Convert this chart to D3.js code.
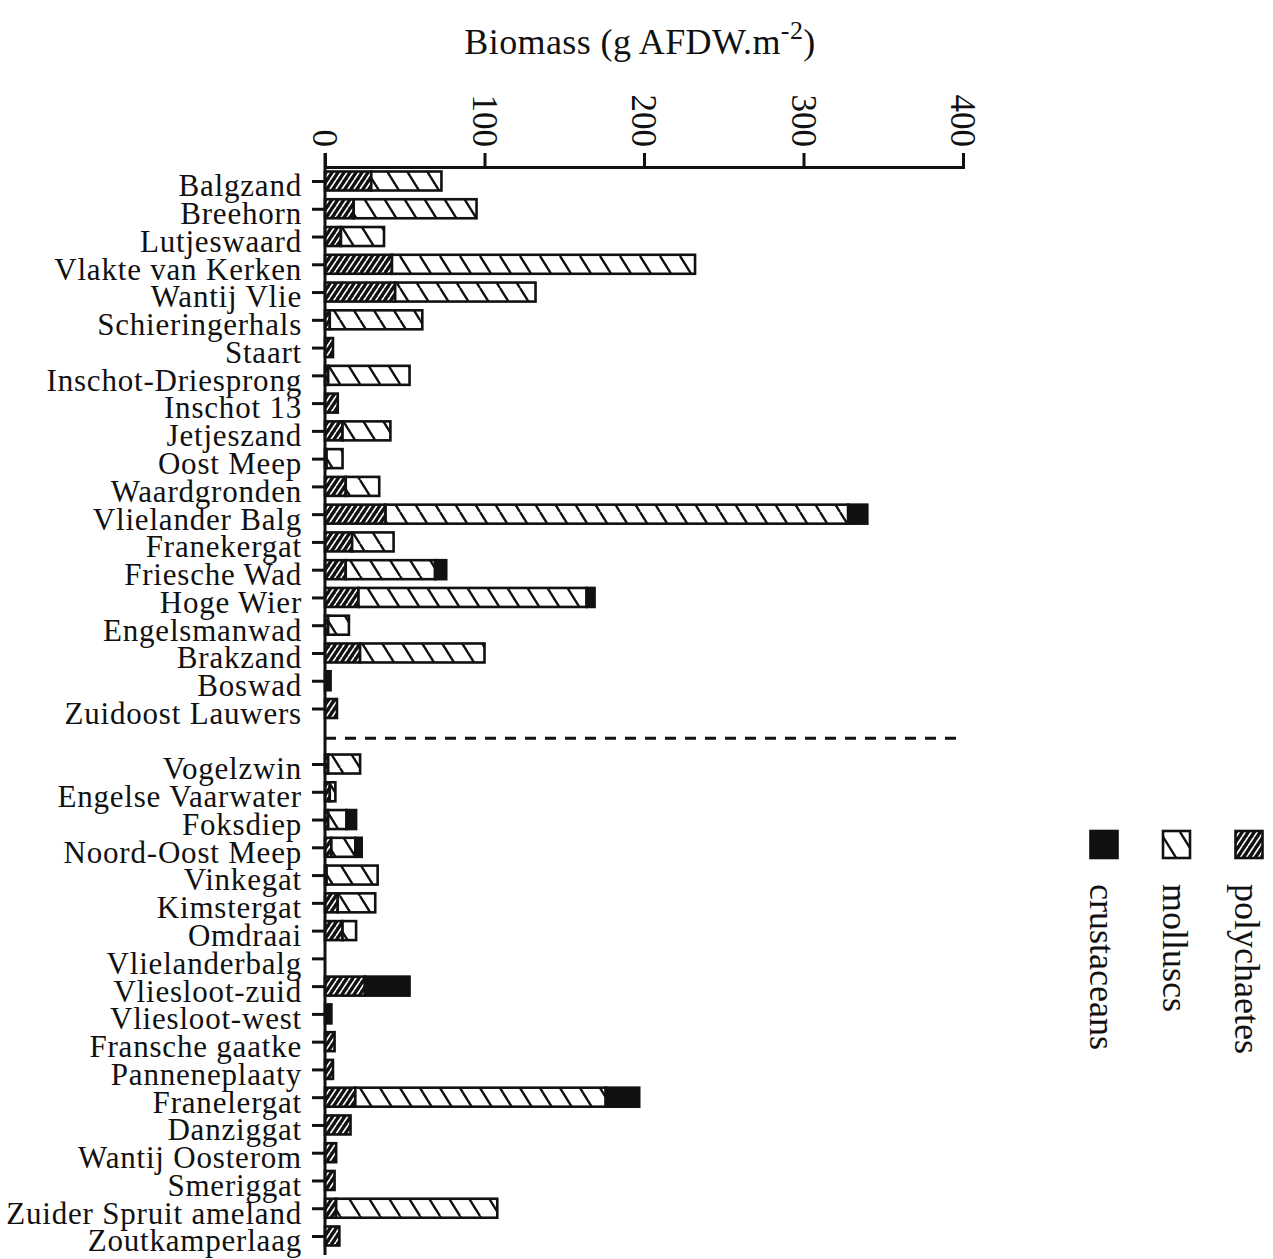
<!DOCTYPE html>
<html>
<head>
<meta charset="utf-8">
<script src="https://cdn.jsdelivr.net/npm/d3@7"></script>
<style>
  body { margin: 0; background: #fff; }
  svg text { font-family: "Liberation Serif", "Times New Roman", serif; fill: #111; }
</style>
</head>
<body>
<div id="chart"></div>
<script>
// sites above the dashed line, then sites below it
var sites_top = ["Balgzand", "Breehorn", "Lutjeswaard", "Vlakte van Kerken", "Wantij Vlie",
  "Schieringerhals", "Staart", "Inschot-Driesprong", "Inschot 13", "Jetjeszand", "Oost Meep",
  "Waardgronden", "Vlielander Balg", "Franekergat", "Friesche Wad", "Hoge Wier", "Engelsmanwad",
  "Brakzand", "Boswad", "Zuidoost Lauwers"];
var sites_bottom = ["Vogelzwin", "Engelse Vaarwater", "Foksdiep", "Noord-Oost Meep", "Vinkegat",
  "Kimstergat", "Omdraai", "Vlielanderbalg", "Vliesloot-zuid", "Vliesloot-west", "Fransche gaatke",
  "Panneneplaaty", "Franelergat", "Danziggat", "Wantij Oosterom", "Smeriggat",
  "Zuider Spruit ameland", "Zoutkamperlaag"];

// biomass, g AFDW per m2, same order as sites_top + sites_bottom
var polychaetes = [29, 18, 10, 42, 44, 3, 5, 2, 8, 11, 1, 13, 38, 17, 13, 21, 2, 22, 0, 7.5,
  2, 3, 2, 4, 1, 8, 11, 0, 25, 0, 6, 5, 19, 16, 7, 6, 7, 9];
var molluscs = [44, 77, 27, 190, 88, 58, 0, 51, 0, 30, 10, 21, 290, 26, 56, 143, 13, 78, 0, 0,
  20, 3.5, 11.5, 15, 32, 23.5, 8.5, 0, 0, 0, 0, 0, 157, 0, 0, 0, 101, 0];
var crustaceans = [0, 0, 0, 0, 0, 0, 0, 0, 0, 0, 0, 0, 12, 0, 7, 5, 0, 0, 3.5, 0,
  0, 0, 6, 4, 0, 0, 0, 0, 28, 4, 0, 0, 21, 0, 0, 0, 0, 0];

var x_ticks = [0, 100, 200, 300, 400];
var groups = ["polychaetes", "molluscs", "crustaceans"];
var legend_order = ["crustaceans", "molluscs", "polychaetes"];

var width = 1273, height = 1259;
var axis_y = 167, axis_bottom = 1255, bar_h = 19;

var sites = sites_top.concat(sites_bottom);
var rows = sites.map(function(s, i){
  return {site: s, polychaetes: polychaetes[i], molluscs: molluscs[i], crustaceans: crustaceans[i]};
});

var x = d3.scaleLinear().domain([0, 400]).range([325, 963]);
var y = d3.scalePoint()
    .domain(sites_top.concat(["gap"], sites_bottom))
    .range([181, 1236]);

var svg = d3.select("#chart").append("svg")
    .attr("width", width)
    .attr("height", height)
    .style("background", "#fff");

// fill patterns
var defs = svg.append("defs");

var p_w = 6, p_h = 9;
var pat_p = defs.append("pattern")
    .attr("id", "pat-polychaetes")
    .attr("patternUnits", "userSpaceOnUse")
    .attr("width", p_w).attr("height", p_h);
pat_p.append("rect").attr("width", p_w).attr("height", p_h).attr("fill", "#111");
pat_p.append("path")
    .attr("d", "M" + (-p_w) + "," + p_h + "L0,0M0," + p_h + "L" + p_w + ",0M" + p_w + "," + p_h + "L" + (2 * p_w) + ",0")
    .attr("stroke", "#fff")
    .attr("stroke-width", 1.6);

var m_w = 20, m_h = 32;
var pat_m = defs.append("pattern")
    .attr("id", "pat-molluscs")
    .attr("patternUnits", "userSpaceOnUse")
    .attr("width", m_w).attr("height", m_h);
pat_m.append("rect").attr("width", m_w).attr("height", m_h).attr("fill", "#fff");
pat_m.append("path")
    .attr("d", "M" + (-m_w) + ",0L0," + m_h + "M0,0L" + m_w + "," + m_h + "M" + m_w + ",0L" + (2 * m_w) + "," + m_h)
    .attr("stroke", "#111")
    .attr("stroke-width", 2.4);

var fills = {polychaetes: "url(#pat-polychaetes)", molluscs: "url(#pat-molluscs)", crustaceans: "#111"};

// title
var title = svg.append("text")
    .attr("x", 640)
    .attr("y", 54)
    .attr("text-anchor", "middle")
    .style("font-size", "36px")
    .style("letter-spacing", "0.4px");
title.append("tspan").text("Biomass (g AFDW.m");
title.append("tspan").attr("dy", -15).style("font-size", "26px").text("-2");
title.append("tspan").attr("dy", 15).text(")");

// stacked bars
var stacked = d3.stack().keys(groups)(rows);

svg.selectAll(".layer")
    .data(stacked)
  .enter().append("g")
    .attr("class", "layer")
    .attr("fill", function(d){ return fills[d.key]; })
  .selectAll("rect")
    .data(function(d){ return d.filter(function(s){ return s[1] > s[0]; }); })
  .enter().append("rect")
    .attr("x", function(d){ return x(d[0]); })
    .attr("width", function(d){ return x(d[1]) - x(d[0]); })
    .attr("y", function(d){ return y(d.data.site) - bar_h / 2; })
    .attr("height", bar_h)
    .attr("stroke", "#111")
    .attr("stroke-width", 2.6);

// top axis
var x_axis = svg.append("g")
    .attr("transform", "translate(0," + axis_y + ")")
    .call(d3.axisTop(x).tickValues(x_ticks).tickSize(14).tickFormat(d3.format("d")));

x_axis.selectAll("path, line").attr("stroke", "#111").attr("stroke-width", 3);
x_axis.selectAll("text")
    .attr("x", 0)
    .attr("y", 0)
    .attr("dy", "0.35em")
    .attr("transform", "translate(0,-20) rotate(90)")
    .style("text-anchor", "end")
    .style("font-size", "35px")
    .attr("fill", "#111");

// left axis
var y_axis = svg.append("g")
    .attr("transform", "translate(" + x(0) + ",0)")
    .call(d3.axisLeft(y).tickSize(13).tickPadding(10));

y_axis.select(".domain").remove();
y_axis.selectAll(".tick").filter(function(d){ return d == "gap"; }).remove();
y_axis.selectAll("line").attr("stroke", "#111").attr("stroke-width", 3);
y_axis.selectAll("text")
    .attr("dy", "0.48em")
    .style("font-size", "31px")
    .style("letter-spacing", "0.8px")
    .attr("fill", "#111");

y_axis.append("line")
    .attr("x1", 0).attr("x2", 0)
    .attr("y1", axis_y - 14)
    .attr("y2", axis_bottom)
    .attr("stroke", "#111")
    .attr("stroke-width", 3);

// dashed separator
svg.append("line")
    .attr("x1", x(0))
    .attr("x2", x(400))
    .attr("y1", y("gap") + 2)
    .attr("y2", y("gap") + 2)
    .attr("stroke", "#111")
    .attr("stroke-width", 3)
    .attr("stroke-dasharray", "11,9");

// legend
var leg_x = d3.scalePoint().domain(legend_order).range([1104, 1249]);
var sw = 27;

var legend = svg.selectAll(".legend")
    .data(legend_order)
  .enter().append("g")
    .attr("class", "legend");

legend.append("rect")
    .attr("x", function(d){ return leg_x(d) - sw / 2; })
    .attr("y", 831)
    .attr("width", sw)
    .attr("height", sw)
    .attr("fill", function(d){ return fills[d]; })
    .attr("stroke", "#111")
    .attr("stroke-width", 2.6);

legend.append("text")
    .attr("transform", function(d){ return "translate(" + (leg_x(d) - 14) + ",884) rotate(90)"; })
    .style("font-size", "36px")
    .text(function(d){ return d; });
</script>
</body>
</html>
